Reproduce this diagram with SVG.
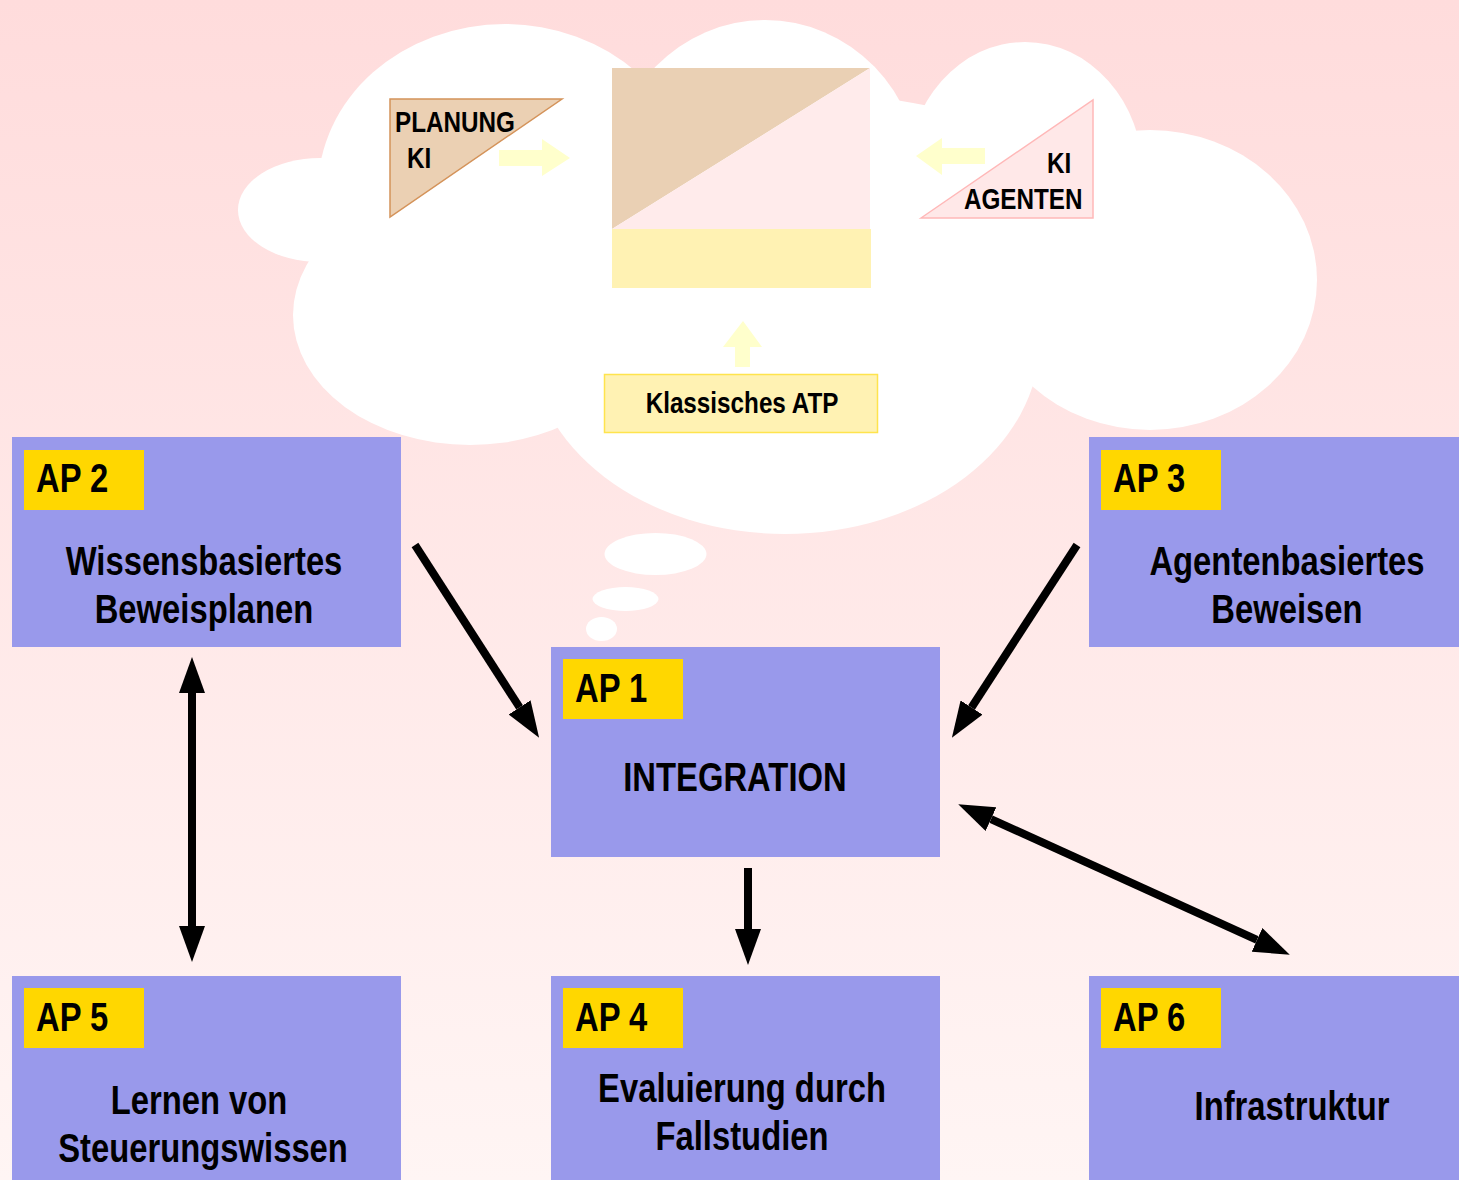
<svg xmlns="http://www.w3.org/2000/svg" width="1459" height="1180" viewBox="0 0 1459 1180">
<defs>
<linearGradient id="bg" x1="0" y1="0" x2="0" y2="1">
<stop offset="0" stop-color="#FFDCDC"/>
<stop offset="1" stop-color="#FFF5F4"/>
</linearGradient>
<marker id="ah" markerUnits="userSpaceOnUse" markerWidth="36" markerHeight="26" refX="0" refY="13" orient="auto-start-reverse" viewBox="0 0 36 26">
<path d="M0,0 L36,13 L0,26 z" fill="#000"/>
</marker>
</defs>
<style>
.box{fill:#9999EB}
.tag{fill:#FFD700}
.t{font-family:"Liberation Sans",Arial,sans-serif;font-weight:bold;fill:#000}
.big{font-size:40px}
.mid{font-size:29.6px}
.c{text-anchor:middle}
.cloud{fill:#FFFFFF}
.conn{stroke:#000;stroke-width:8;fill:none;marker-end:url(#ah)}
.both{marker-start:url(#ah)}
.pale{fill:#FFFFCC}
</style>
<rect x="0" y="0" width="1459" height="1180" fill="url(#bg)"/>

<g id="cloud" class="cloud">
<ellipse cx="320" cy="210" rx="82" ry="52"/>
<ellipse cx="505" cy="190" rx="187" ry="166"/>
<ellipse cx="765" cy="180" rx="155" ry="160"/>
<ellipse cx="1025" cy="175" rx="118" ry="133"/>
<ellipse cx="1150" cy="280" rx="167" ry="150"/>
<ellipse cx="785" cy="340" rx="255" ry="194"/>
<ellipse cx="470" cy="315" rx="177" ry="130"/>
<ellipse cx="760" cy="260" rx="400" ry="170"/>
<ellipse cx="655.5" cy="554" rx="51" ry="21"/>
<ellipse cx="625.5" cy="599" rx="33" ry="12"/>
<ellipse cx="601.5" cy="629" rx="15.5" ry="12"/>
</g>

<g id="center">
<polygon points="612,68 870,68 612,229" fill="#EAD0B4"/>
<polygon points="870,68 870,229 612,229" fill="#FFEBEB"/>
<rect x="612" y="229" width="259" height="59" fill="#FFF2B3"/>
</g>

<g id="planung">
<polygon points="390,99 562,99 390,217" fill="#EBD0B3" stroke="#D4935A" stroke-width="1.5"/>
<g transform="scale(0.82,1)">
<text class="t mid" x="481.7" y="132">PLANUNG</text>
<text class="t mid" x="496.3" y="168">KI</text>
</g>
</g>

<g id="agenten">
<polygon points="921,218 1093,100 1093,218" fill="#FFE8E8" stroke="#FFB8B8" stroke-width="1.5"/>
<g transform="scale(0.82,1)">
<text class="t mid" x="1276.8" y="173">KI</text>
<text class="t mid" x="1175.6" y="209">AGENTEN</text>
</g>
</g>

<g id="atp">
<rect x="604.5" y="374.5" width="273" height="58" fill="#FFF2B3" stroke="#FFE44D" stroke-width="1.5"/>
<g transform="scale(0.82,1)">
<text class="t mid c" x="904.9" y="413">Klassisches ATP</text>
</g>
</g>

<g id="block-arrows">
<polygon class="pale" points="499,150 542,150 542,139 570,158 542,176 542,166 499,166"/>
<polygon class="pale" points="985,148 942,148 942,138 916,156 942,175 942,164 985,164"/>
<polygon class="pale" points="735,367 735,347 723,347 743,321 762,347 750,347 750,367"/>
</g>

<g id="ap2">
<rect class="box" x="12" y="437" width="389" height="210"/>
<rect class="tag" x="24" y="450" width="120" height="60"/>
<g transform="scale(0.82,1)">
<text class="t big" x="43.9" y="492">AP 2</text>
<text class="t big c" x="248.8" y="575">Wissensbasiertes</text>
<text class="t big c" x="248.8" y="623">Beweisplanen</text>
</g>
</g>

<g id="ap3">
<rect class="box" x="1089" y="437" width="370" height="210"/>
<rect class="tag" x="1101" y="450" width="120" height="60"/>
<g transform="scale(0.82,1)">
<text class="t big" x="1357.3" y="492">AP 3</text>
<text class="t big c" x="1569.5" y="575">Agentenbasiertes</text>
<text class="t big c" x="1569.5" y="623">Beweisen</text>
</g>
</g>

<g id="ap1">
<rect class="box" x="551" y="647" width="389" height="210"/>
<rect class="tag" x="563" y="659" width="120" height="60"/>
<g transform="scale(0.82,1)">
<text class="t big" x="701.2" y="702">AP 1</text>
<text class="t big c" x="896.3" y="791">INTEGRATION</text>
</g>
</g>

<g id="ap5">
<rect class="box" x="12" y="976" width="389" height="210"/>
<rect class="tag" x="24" y="988" width="120" height="60"/>
<g transform="scale(0.82,1)">
<text class="t big" x="43.9" y="1031">AP 5</text>
<text class="t big c" x="242.7" y="1114">Lernen von</text>
<text class="t big c" x="247.6" y="1162">Steuerungswissen</text>
</g>
</g>

<g id="ap4">
<rect class="box" x="551" y="976" width="389" height="210"/>
<rect class="tag" x="563" y="988" width="120" height="60"/>
<g transform="scale(0.82,1)">
<text class="t big" x="701.2" y="1031">AP 4</text>
<text class="t big c" x="904.9" y="1102">Evaluierung durch</text>
<text class="t big c" x="904.9" y="1150">Fallstudien</text>
</g>
</g>

<g id="ap6">
<rect class="box" x="1089" y="976" width="370" height="210"/>
<rect class="tag" x="1101" y="988" width="120" height="60"/>
<g transform="scale(0.82,1)">
<text class="t big" x="1357.3" y="1031">AP 6</text>
<text class="t big c" x="1575.6" y="1120">Infrastruktur</text>
</g>
</g>

<g id="connectors">
<line class="conn" x1="415" y1="545" x2="519.6" y2="707.4"/>
<line class="conn" x1="1077" y1="545" x2="971.5" y2="707.5"/>
<line class="conn both" x1="192" y1="693" x2="192" y2="926"/>
<line class="conn" x1="748" y1="868" x2="748" y2="929"/>
<line class="conn both" x1="991" y1="819.1" x2="1257" y2="939.9"/>
</g>
</svg>
